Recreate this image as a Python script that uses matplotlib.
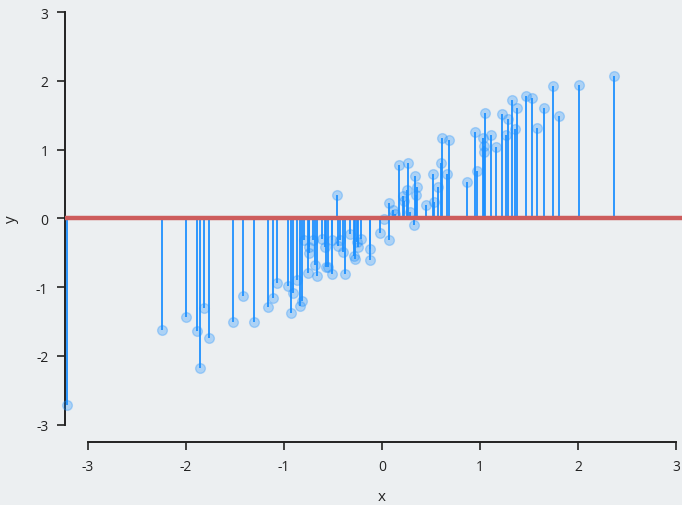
import matplotlib
matplotlib.use("Agg")
import matplotlib.pyplot as plt

plt.rcParams['font.family'] = ['Open Sans', 'DejaVu Sans']

x_vals = [-3.21, -2.245, -2.0, -1.89, -1.86, -1.82, -1.77, -1.52, -1.42, -1.31,
          -1.165, -1.11, -1.07, -0.955, -0.93, -0.91, -0.87, -0.835, -0.82, -0.80,
          -0.755, -0.745, -0.74, -0.70, -0.68, -0.665, -0.615, -0.585, -0.57, -0.515,
          -0.515, -0.555, -0.462, -0.445, -0.43, -0.395, -0.378, -0.327, -0.29, -0.275,
          -0.26, -0.243, -0.21, -0.12, -0.12, -0.02,
          0.02, 0.071, 0.071, 0.115, 0.133, 0.17, 0.218, 0.228, 0.255, 0.27,
          0.286, 0.33, 0.337, 0.36, 0.347, 0.446, 0.517, 0.53, 0.571, 0.599,
          0.609, 0.66, 0.684,
          0.864, 0.949, 0.966, 1.028, 1.038, 1.038, 1.048, 1.115, 1.160, 1.228,
          1.262, 1.283, 1.327, 1.360, 1.378, 1.472, 1.528, 1.585, 1.656, 1.745,
          1.803, 2.007, 2.370]
y_vals = [-2.71, -1.62, -1.43, -1.64, -2.17, -1.30, -1.74, -1.51, -1.13, -1.50,
          -1.29, -1.16, -0.94, -0.98, -1.37, -1.08, -0.89, -1.28, -1.20, -0.31,
          -0.80, -0.42, -0.51, -0.32, -0.68, -0.83, -0.30, -0.42, -0.71, -0.32,
          -0.81, -0.70, 0.346, -0.40, -0.32, -0.49, -0.81, -0.225, -0.54, -0.59,
          -0.35, -0.42, -0.30, -0.44, -0.61, -0.21,
          -0.01, -0.32, 0.22, 0.128, 0.065, 0.778, 0.32, 0.254, 0.414, 0.802,
          0.10, -0.095, 0.61, 0.46, 0.34, 0.196, 0.64, 0.245, 0.45, 0.807,
          1.17, 0.647, 1.14,
          0.535, 1.262, 0.686, 1.170, 1.058, 0.962, 1.533, 1.214, 1.039, 1.519,
          1.214, 1.442, 1.722, 1.297, 1.610, 1.785, 1.756, 1.320, 1.602, 1.922,
          1.494, 1.936, 2.076]

x_ticks = [-3, -2, -1, 0, 1, 2, 3]
y_ticks = [-3, -2, -1, 0, 1, 2, 3]

bg = '#ECEFF1'
fig = plt.figure(figsize=(6.82, 5.06), dpi=100, facecolor=bg)
ax = fig.add_axes([65/682, 63/506, 1 - 65/682, (443-13)/506])
ax.set_facecolor(bg)

ax.vlines(x_vals, 0, y_vals, color='#1E90FF', lw=1.3, zorder=2)
ax.plot(x_vals, y_vals, 'o', ms=7, mfc=(30/255, 144/255, 1, 0.3),
        mec=(30/255, 144/255, 1, 0.3), mew=1, zorder=3, clip_on=False)
ax.axhline(0, color='#CD5C5C', lw=3.2, zorder=4)

xmin, xmax = -3.235, (682-382)/98
ymin, ymax = 3 - (443-13)/68.8, 3.0
ax.set_xlim(xmin, xmax)
ax.set_ylim(ymin, ymax)

ax.set_xticks(x_ticks)
ax.set_yticks(y_ticks)
ax.set_xticklabels([str(t) for t in x_ticks])
ax.set_yticklabels([str(t) for t in y_ticks])

for s in ['top', 'right']:
    ax.spines[s].set_visible(False)
for s in ['left', 'bottom']:
    ax.spines[s].set_linewidth(1.4)
    ax.spines[s].set_color('#222222')
ax.spines['left'].set_bounds(-3, 3)
ax.spines['bottom'].set_bounds(-3, 3)

ax.tick_params(axis='both', direction='out', length=6, width=1.2,
               color='#222222', labelcolor='#222222', labelsize=10, pad=6)

ax.set_xlabel('x', fontsize=11, color='#222222')
ax.set_ylabel('y', fontsize=11, color='#222222')
ax.xaxis.set_label_coords((0 - xmin) / (xmax - xmin), -47/430)
ax.yaxis.set_label_coords(-46/617, (0 - ymin) / (ymax - ymin))

fig.savefig('out.png', dpi=100, facecolor=bg)
